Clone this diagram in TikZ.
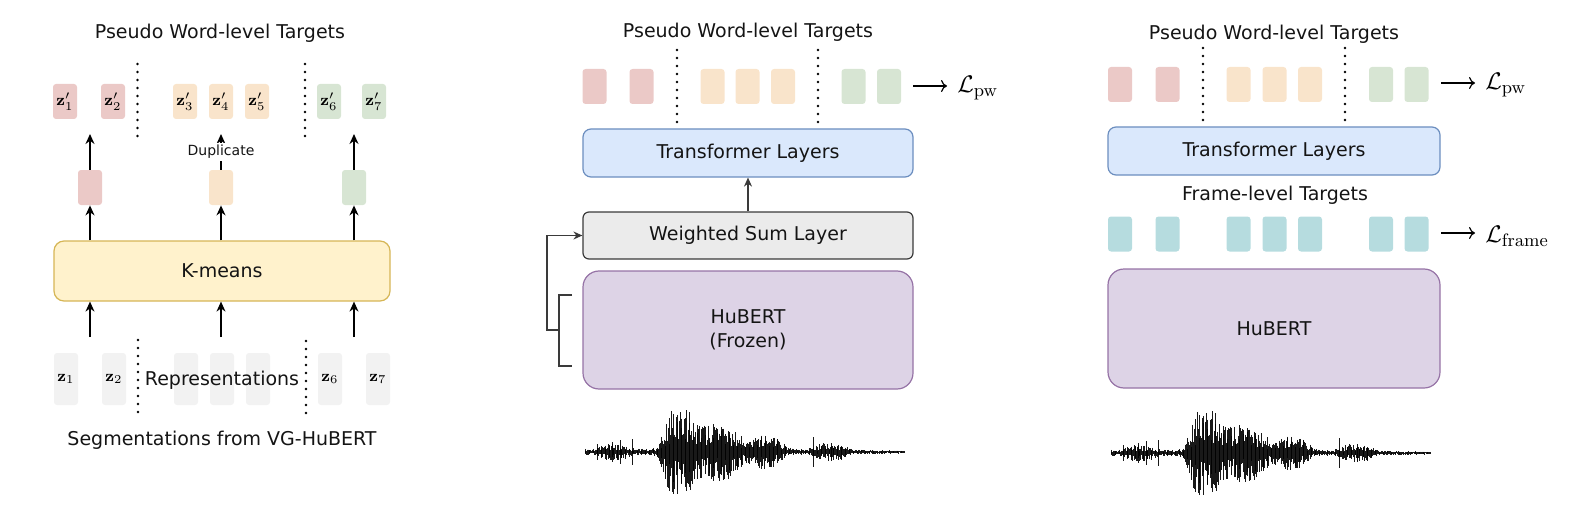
\documentclass[tikz,border=0pt]{standalone}
\usepackage[no-math]{fontspec}
\setmainfont{DejaVu Sans}
\usepackage{amsmath}
\usetikzlibrary{arrows.meta}
\definecolor{tokred}{HTML}{EBC9C7}
\definecolor{tokorg}{HTML}{F9E4CB}
\definecolor{tokgrn}{HTML}{D7E5D3}
\definecolor{tokteal}{HTML}{B6DCDF}
\definecolor{tokgray}{HTML}{F2F2F2}
\definecolor{kmfill}{HTML}{FFF2CC}
\definecolor{kmdraw}{HTML}{D6B656}
\definecolor{trfill}{HTML}{DAE8FC}
\definecolor{trdraw}{HTML}{6C8EBF}
\definecolor{wsfill}{HTML}{EBEBEB}
\definecolor{wsdraw}{HTML}{3A3A3A}
\definecolor{hbfill}{HTML}{DDD3E6}
\definecolor{hbdraw}{HTML}{9673A6}
\definecolor{txt}{HTML}{141414}
\newcommand\mainsz{\fontsize{9.5}{12}\selectfont}
\newcommand\mathsz{\fontsize{8.5}{9}\selectfont}
\newcommand\speechwave[2]{%
  \pgfmathsetseed{7}%
  \foreach \t in {0,0.8,...,320}{%
    \pgfmathsetmacro\en{envw(\t)}%
    \pgfmathsetmacro\au{\en*(0.2+0.8*rnd)}%
    \pgfmathsetmacro\ad{\en*(0.2+0.8*rnd)}%
    \draw[wavel] (#1+\t,#2-\au) -- (#1+\t,#2+\ad);
  }%
  \foreach \s/\h in {12/8,27/10,35/12,47/13,228/15,246/9}{%
    \draw[wavel] (#1+\s,#2-\h) -- (#1+\s,#2+\h);
  }%
}
\begin{document}
\begin{tikzpicture}[x=0.5pt,y=-0.5pt,
  declare function={
    bmp(\t,\c,\w)=exp(-(min(abs((\t-\c)/\w),2.2))^4);
    envw(\t)=3.5-2*max(\t-200,0)/120
      +5*bmp(\t,30,15)
      +40*bmp(\t,95,18)
      +26*bmp(\t,132,20)
      +14*bmp(\t,175,24)
      +6*bmp(\t,246,17);
  },
  wavel/.style={line width=0.45pt, black, opacity=0.9},
  tok/.style={rounded corners=1.5pt, minimum width=12pt, minimum height=17.5pt, inner sep=0pt, fill=#1, font=\mathsz},
  rep/.style={rounded corners=1.5pt, minimum width=12pt, minimum height=26pt, inner sep=0pt, fill=tokgray, font=\mathsz},
  lbl/.style={font=\mainsz, text=txt, inner sep=1pt},
  bigbox/.style={draw=#1, line width=0.6pt, font=\mainsz, text=txt, inner sep=0pt, align=center},
  arr/.style={-{Stealth[length=5pt,width=4.5pt]}, line width=0.7pt},
  arrsm/.style={-{Stealth[length=4.5pt,width=4pt]}, line width=0.6pt, draw=wsdraw},
  bline/.style={line width=0.6pt, draw=wsdraw},
  dots/.style={line width=1.3pt, dash pattern=on 0pt off 4pt, line cap=round},
  losstip/.style={-{To[length=3pt,width=6pt]}, line width=0.6pt},
  loss/.style={font=\fontsize{13}{15}\selectfont, anchor=west, inner sep=0pt}
]
\useasboundingbox (0,0) rectangle (1574,508);

% ================= LEFT PANEL =================
\node[lbl] (t1) at (220,33) {Pseudo Word-level Targets};
\node[tok=tokred] (zp1) at (65,101.5) {$\mathbf{z}'_1$};
\node[tok=tokred] (zp2) at (113,101.5) {$\mathbf{z}'_2$};
\node[tok=tokorg] (zp3) at (185,101.5) {$\mathbf{z}'_3$};
\node[tok=tokorg] (zp4) at (221,101.5) {$\mathbf{z}'_4$};
\node[tok=tokorg] (zp5) at (257,101.5) {$\mathbf{z}'_5$};
\node[tok=tokgrn] (zp6) at (329,101.5) {$\mathbf{z}'_6$};
\node[tok=tokgrn] (zp7) at (374,101.5) {$\mathbf{z}'_7$};
\draw[dots] (137.5,64) -- (137.5,141);
\draw[dots] (305,64) -- (305,141);

\node[tok=tokred] (c1) at (90,187.5) {};
\node[tok=tokorg] (c2) at (221,187.5) {};
\node[tok=tokgrn] (c3) at (354,187.5) {};
\coordinate (o1) at (90,134);
\coordinate (o2) at (221,134);
\coordinate (o3) at (354,134);
\draw[arr] (c1.north) -- (o1);
\draw[arr] (c2.north) -- node[fill=white, font=\fontsize{7}{8}\selectfont, text=txt, inner sep=1pt] {Duplicate} (o2);
\draw[arr] (c3.north) -- (o3);

\node[bigbox=kmdraw, fill=kmfill, rounded corners=5pt, minimum width=168pt, minimum height=30pt] (km) at (222,271) {K-means};
\draw[arr] (km.north -| c1) -- (c1.south);
\draw[arr] (km.north -| c2) -- (c2.south);
\draw[arr] (km.north -| c3) -- (c3.south);

\node[rep] (z1) at (66,379) {$\mathbf{z}_1$};
\node[rep] (z2) at (114,379) {$\mathbf{z}_2$};
\node[rep] (z3) at (186,379) {};
\node[rep] (z4) at (222,379) {};
\node[rep] (z5) at (258,379) {};
\node[rep] (z6) at (330,379) {$\mathbf{z}_6$};
\node[rep] (z7) at (378,379) {$\mathbf{z}_7$};
\node[lbl] (reps) at (222,380) {Representations};
\draw[dots] (138,340) -- (138,417);
\draw[dots] (306,341) -- (306,418);
\coordinate (i1) at (90,337);
\coordinate (i2) at (221,337);
\coordinate (i3) at (354,337);
\draw[arr] (i1) -- (i1 |- km.south);
\draw[arr] (i2) -- (i2 |- km.south);
\draw[arr] (i3) -- (i3 |- km.south);
\node[lbl] (seg) at (222,440) {Segmentations from VG-HuBERT};

% ================= MIDDLE PANEL =================
\node[lbl] (t2) at (748,32) {Pseudo Word-level Targets};
\node[tok=tokred] (m1) at (594.5,86.5) {};
\node[tok=tokred] (m2) at (641.5,86.5) {};
\node[tok=tokorg] (m3) at (712.5,86.5) {};
\node[tok=tokorg] (m4) at (747.5,86.5) {};
\node[tok=tokorg] (m5) at (783,86.5) {};
\node[tok=tokgrn] (m6) at (853.5,86.5) {};
\node[tok=tokgrn] (m7) at (889,86.5) {};
\draw[dots] (677,50) -- (677,126);
\draw[dots] (818,50) -- (818,126);
\coordinate (ma) at (913,86);
\node[loss] (lpw1) at (957,88) {$\mathcal{L}_{\mathrm{pw}}$};
\draw[losstip] (ma) -- ([xshift=-5pt]lpw1.west |- ma);

\node[bigbox=trdraw, fill=trfill, rounded corners=4pt, minimum width=165pt, minimum height=24pt] (tr1) at (748,153) {Transformer Layers};
\node[bigbox=wsdraw, fill=wsfill, rounded corners=3pt, minimum width=165pt, minimum height=23.5pt] (ws) at (748,235.5) {Weighted Sum Layer};
\draw[arrsm] (ws.north) -- (tr1.south);
\node[bigbox=hbdraw, fill=hbfill, rounded corners=8pt, minimum width=165pt, minimum height=59pt] (hb1) at (748,330) {HuBERT\\(Frozen)};
\coordinate (bt) at (572,295);
\coordinate (bm) at (559,330);
\coordinate (bb) at (572,366);
\coordinate (bl) at (547,330);
\draw[bline] (bt) -- (bt -| bm) -- (bb -| bm) -- (bb);
\draw[arrsm] (bm) -- (bl) |- (ws.west);
\speechwave{585}{452}

% ================= RIGHT PANEL =================
\node[lbl] (t3) at (1274,34) {Pseudo Word-level Targets};
\node[tok=tokred] (r1) at (1120,84.5) {};
\node[tok=tokred] (r2) at (1167.5,84.5) {};
\node[tok=tokorg] (r3) at (1238.5,84.5) {};
\node[tok=tokorg] (r4) at (1274.5,84.5) {};
\node[tok=tokorg] (r5) at (1310,84.5) {};
\node[tok=tokgrn] (r6) at (1381,84.5) {};
\node[tok=tokgrn] (r7) at (1416.5,84.5) {};
\draw[dots] (1203,48) -- (1203,124);
\draw[dots] (1345,48) -- (1345,124);
\coordinate (ra) at (1441,83);
\node[loss] (lpw2) at (1485,85) {$\mathcal{L}_{\mathrm{pw}}$};
\draw[losstip] (ra) -- ([xshift=-5pt]lpw2.west |- ra);

\node[bigbox=trdraw, fill=trfill, rounded corners=4pt, minimum width=166pt, minimum height=24pt] (tr2) at (1274,151) {Transformer Layers};
\node[lbl] (fl) at (1275,195) {Frame-level Targets};
\node[tok=tokteal] (f1) at (1120,234) {};
\node[tok=tokteal] (f2) at (1167.5,234) {};
\node[tok=tokteal] (f3) at (1238.5,234) {};
\node[tok=tokteal] (f4) at (1274.5,234) {};
\node[tok=tokteal] (f5) at (1310,234) {};
\node[tok=tokteal] (f6) at (1381,234) {};
\node[tok=tokteal] (f7) at (1416.5,234) {};
\coordinate (rb) at (1441,233);
\node[loss] (lfr) at (1485,236) {$\mathcal{L}_{\mathrm{frame}}$};
\draw[losstip] (rb) -- ([xshift=-5pt]lfr.west |- rb);

\node[bigbox=hbdraw, fill=hbfill, rounded corners=8pt, minimum width=166pt, minimum height=59.5pt] (hb2) at (1274,328.5) {HuBERT};
\speechwave{1111}{453}
\end{tikzpicture}
\end{document}
